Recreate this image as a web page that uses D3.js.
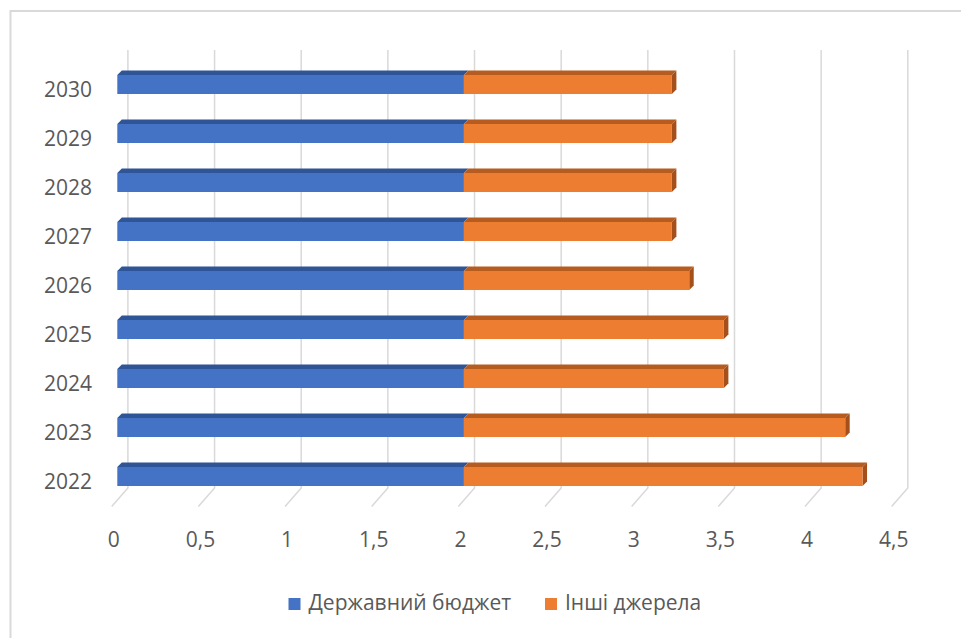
<!DOCTYPE html>
<html>
<head>
<meta charset="utf-8">
<script src="https://cdn.jsdelivr.net/npm/d3@7"></script>
<style>
  html, body { margin: 0; padding: 0; background: #fff; }
  svg { display: block; }
  text { font-family: "Open Sans", "Noto Sans", sans-serif; fill: #595959; }
</style>
</head>
<body>
<svg id="chart"></svg>
<script>
// values
const years = ['2022', '2023', '2024', '2025', '2026', '2027', '2028', '2029', '2030'];
const budget = [2, 2, 2, 2, 2, 2, 2, 2, 2];
const other = [2.3, 2.2, 1.5, 1.5, 1.3, 1.2, 1.2, 1.2, 1.2];
const seriesNames = ['Державний бюджет', 'Інші джерела'];
const xTicks = [0, 0.5, 1, 1.5, 2, 2.5, 3, 3.5, 4, 4.5];

const width = 961;
const height = 638;
const depth = 4.5;          // bar 3d offset
const colors = {
    blue: { front: '#4472c4', top: '#2f5597', side: '#2c4f8c' },
    orange: { front: '#ed7d31', top: '#b65c20', side: '#a5501a' }
};

const svg = d3.select('#chart')
    .attr('width', width)
    .attr('height', height);

// chart frame
svg.append('rect')
    .attr('x', 10.5)
    .attr('y', 11)
    .attr('width', 1000)
    .attr('height', 700)
    .attr('fill', 'none')
    .attr('stroke', '#d9d9d9')
    .attr('stroke-width', 2);

const xScale = d3.scaleLinear().domain([0, 4.5]).range([117.3, 897.2]);
const yScale = d3.scaleBand()
    .domain(years.slice().reverse())
    .range([60, 501])
    .paddingInner(0.612)
    .paddingOuter(0.306);

// gridlines: back wall plus the slanted floor piece
const wallTop = 50, wallBottom = 488, floorFront = 506.5;
svg.append('g')
    .selectAll('path')
    .data(xTicks)
    .join('path')
    .attr('d', d => {
        const xb = xScale(d) + 10.6;
        const xf = xScale(d) - 5.6;
        return `M${xb},${wallTop}L${xb},${wallBottom}L${xf},${floorFront}`;
    })
    .attr('fill', 'none')
    .attr('stroke', '#d9d9d9')
    .attr('stroke-width', 1.5);

// axes (labels only)
const fmt = d3.formatLocale({ decimal: ',', thousands: ' ', grouping: [3], currency: ['', ''] }).format('~g');

const xAxis = svg.append('g')
    .attr('transform', 'translate(-4, 539.5)')
    .call(d3.axisBottom(xScale).tickValues(xTicks).tickFormat(fmt).tickSize(0));
xAxis.select('.domain').remove();
xAxis.selectAll('text')
    .attr('y', 0)
    .attr('dy', '0.35em')
    .style('font-size', '21px')
    .style('fill', '#595959');

const yAxis = svg.append('g')
    .attr('transform', 'translate(92, 5.5)')
    .call(d3.axisLeft(yScale).tickSize(0).tickPadding(0));
yAxis.select('.domain').remove();
yAxis.selectAll('text')
    .attr('dy', '0.35em')
    .style('font-size', '21px')
    .style('fill', '#595959');

// stacked 3d bars
const rows = years.map((y, i) => ({ year: y, b: budget[i], o: other[i] }));
const bh = yScale.bandwidth();

function drawSegment(g, x0, x1, y, c, withSide) {
    g.append('path')
        .attr('d', `M${x0},${y}L${x0 + depth},${y - depth}L${x1 + depth},${y - depth}L${x1},${y}Z`)
        .attr('fill', c.top);
    if (withSide) {
        g.append('path')
            .attr('d', `M${x1},${y}L${x1 + depth},${y - depth}L${x1 + depth},${y + bh - depth}L${x1},${y + bh}Z`)
            .attr('fill', c.side);
    }
    g.append('rect')
        .attr('x', x0)
        .attr('y', y)
        .attr('width', x1 - x0)
        .attr('height', bh)
        .attr('fill', c.front);
}

const bars = svg.append('g');
rows.forEach(d => {
    const g = bars.append('g');
    const y = yScale(d.year);
    drawSegment(g, xScale(0), xScale(d.b), y, colors.blue, false);
    drawSegment(g, xScale(d.b), xScale(d.b + d.o), y, colors.orange, true);
});

// legend
const legend = svg.append('g');
const legendItems = [
    { name: seriesNames[0], color: colors.blue.front, x: 288.5 },
    { name: seriesNames[1], color: colors.orange.front, x: 545 }
];
legendItems.forEach(it => {
    legend.append('rect')
        .attr('x', it.x)
        .attr('y', 598)
        .attr('width', 12)
        .attr('height', 12)
        .attr('fill', it.color);
    legend.append('text')
        .attr('x', it.x + 20)
        .attr('y', 603)
        .attr('dy', '0.35em')
        .style('font-size', '21px')
        .text(it.name);
});
</script>
</body>
</html>
